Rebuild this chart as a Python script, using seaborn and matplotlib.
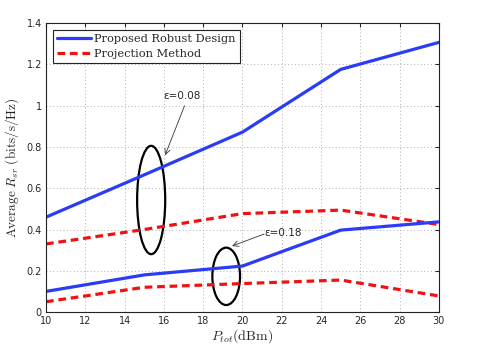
import pandas as pd
import matplotlib
matplotlib.use('Agg')
import matplotlib.pyplot as plt
import seaborn as sns
from matplotlib.patches import Ellipse

# Data
p_tot = [10, 15, 20, 25, 30]
robust_008 = [0.46, 0.665, 0.872, 1.176, 1.307]
proj_008 = [0.33, 0.40, 0.477, 0.494, 0.424]
robust_018 = [0.10, 0.18, 0.223, 0.397, 0.437]
proj_018 = [0.05, 0.12, 0.138, 0.155, 0.078]

x_ticks = [10, 12, 14, 16, 18, 20, 22, 24, 26, 28, 30]
y_ticks = [0, 0.2, 0.4, 0.6, 0.8, 1, 1.2, 1.4]

sns.set_style('white')
plt.rcParams['mathtext.fontset'] = 'cm'
plt.rcParams['font.family'] = ['DejaVu Sans']

fig = plt.figure(figsize=(4.85, 3.51), dpi=100)
ax = fig.add_axes([0.095, 0.111, 0.81, 0.823])

df = pd.DataFrame({'P': p_tot * 4,
                   'R': robust_008 + proj_008 + robust_018 + proj_018,
                   'curve': ['r1'] * 5 + ['p1'] * 5 + ['r2'] * 5 + ['p2'] * 5})

blue = '#2a3cf5'
red = '#f21010'
dash = (0, (2.4, 1.5))
for name, col, ls, lab in [('r1', blue, '-', 'Proposed Robust Design'),
                           ('p1', red, dash, 'Projection Method'),
                           ('r2', blue, '-', None),
                           ('p2', red, dash, None)]:
    sns.lineplot(data=df[df.curve == name], x='P', y='R', ax=ax, color=col,
                 linestyle=ls, linewidth=2.3, label=lab, legend=False)

# ellipses marking the two groups
ax.add_patch(Ellipse((15.35, 0.543), 1.43, 0.525, fill=False, ec='black', lw=1.6))
ax.add_patch(Ellipse((19.17, 0.173), 1.41, 0.278, fill=False, ec='black', lw=1.6))

ax.text(16.9, 1.045, 'ε=0.08', fontsize=7.5, ha='center', va='center')
ax.annotate('', xy=(16.06, 0.76), xytext=(17.05, 1.0),
            arrowprops=dict(arrowstyle='->', color='#333333', lw=0.6, shrinkA=0, shrinkB=0))
ax.text(21.1, 0.385, 'ε=0.18', fontsize=7.5, ha='left', va='center')
ax.annotate('', xy=(19.47, 0.32), xytext=(21.1, 0.378),
            arrowprops=dict(arrowstyle='->', color='#333333', lw=0.6, shrinkA=0, shrinkB=0))

ax.set_xlim(10, 30)
ax.set_ylim(0, 1.4)
ax.set_xticks(x_ticks)
ax.set_yticks(y_ticks)
ax.set_yticklabels(['0', '0.2', '0.4', '0.6', '0.8', '1', '1.2', '1.4'])
ax.tick_params(direction='in', labelsize=7, length=3, top=True, right=True, pad=3)
ax.grid(True, linestyle=(0, (1, 2.5)), color='#b0b0b0', linewidth=0.7)
for s in ax.spines.values():
    s.set_color('#222222')
    s.set_linewidth(0.8)

ax.set_xlabel(r'$P_{tot}(\mathrm{dBm})$', fontsize=10, labelpad=1)
ax.set_ylabel(r'$\mathrm{Average}\ R_{sr}\ \mathrm{(bits/s/Hz)}$', fontsize=9.5, labelpad=4)

leg = ax.legend(loc='upper left', prop={'family': 'DejaVu Serif', 'size': 8.2},
                fancybox=False, framealpha=1, edgecolor='#222222',
                borderaxespad=0.6, handlelength=3.0, handletextpad=0.3,
                labelspacing=0.45, borderpad=0.35)
leg.get_frame().set_linewidth(0.8)

fig.savefig('out.png', dpi=100)
